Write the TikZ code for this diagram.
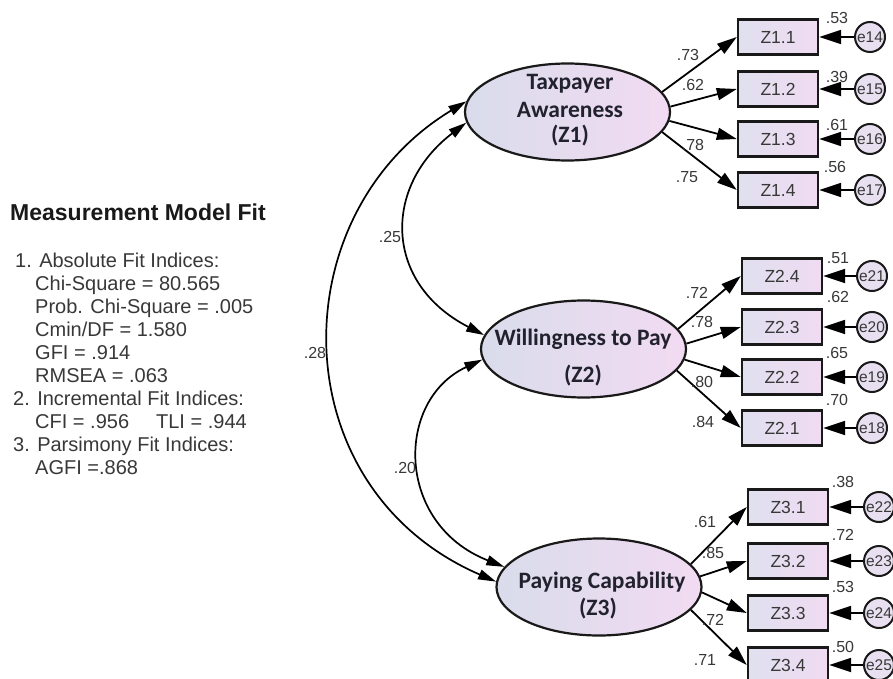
\documentclass[tikz,border=0pt]{standalone}
\usepackage{fontspec}
\setmainfont{Liberation Sans}
\newfontfamily\calfont{Carlito}
\usetikzlibrary{arrows.meta,shapes.geometric}
\definecolor{elleft}{HTML}{D9DCEB}
\definecolor{elright}{HTML}{F2DBF2}
\definecolor{bxleft}{HTML}{E0E0EF}
\definecolor{bxright}{HTML}{F0DBF2}
\definecolor{errfill}{HTML}{E8E0F0}
\definecolor{numgray}{HTML}{383838}
\definecolor{navy}{HTML}{22222E}
\begin{document}
\begin{tikzpicture}[x=1pt,y=-1pt,
  latent/.style={ellipse, draw=black!90, line width=2.2pt, left color=elleft, right color=elright,
    minimum width=205pt, minimum height=97pt, inner sep=0pt},
  ltext/.style={anchor=base, inner sep=0pt, text=navy, font=\calfont\bfseries\fontsize{23.5}{26}\selectfont},
  obs/.style={rectangle, draw=black!90, line width=2.4pt, left color=bxleft, right color=bxright,
    minimum width=80pt, minimum height=35pt, inner sep=0pt, text=numgray,
    font=\fontsize{17.5}{20}\selectfont},
  err/.style={circle, draw=black!90, line width=2pt, fill=errfill, minimum size=30pt, inner sep=0pt,
    text=numgray, font=\fontsize{15.5}{17}\selectfont},
  num/.style={inner sep=0pt, text=numgray, font=\fontsize{16}{18}\selectfont},
  load/.style={-{Triangle[length=20pt,width=12pt]}, line width=1.8pt},
  errarr/.style={-{Triangle[length=22pt,width=14pt]}, line width=1.8pt},
  cov/.style={{Triangle[length=18pt,width=10pt]}-{Triangle[length=18pt,width=10pt]}, line width=1.7pt},
  fit/.style={anchor=base west, inner sep=0pt, text=numgray, font=\fontsize{20}{23}\selectfont}
]
\useasboundingbox[fill=white] (0,0) rectangle (893,679);

% ---- fit text ----
\node[anchor=base west, inner sep=0pt, text=black!90, font=\bfseries\fontsize{23}{26}\selectfont] (title) at (10,220) {Measurement Model Fit};
\node[fit] (f1) at (15,267) {1. Absolute Fit Indices:};
\node[fit] (f2) at (35,290) {Chi-Square = 80.565};
\node[fit] (f3) at (35,313) {Prob. Chi-Square = .005};
\node[fit] (f4) at (35,336) {Cmin/DF = 1.580};
\node[fit] (f5) at (35,359) {GFI = .914};
\node[fit] (f6) at (35,382) {RMSEA = .063};
\node[fit] (f7) at (13,405) {2. Incremental Fit Indices:};
\node[fit] (f8) at (35,428) {CFI = .956\hspace{27pt}TLI = .944};
\node[fit] (f9) at (13,451) {3. Parsimony Fit Indices:};
\node[fit] (f10) at (35,474) {AGFI =.868};

% ---- latent variables ----
\node[latent] (z1) at (567.5,112) {};
\node[latent] (z2) at (583.5,349) {};
\node[latent] (z3) at (599,587) {};
\node[ltext] (z1a) at (570,90) {Taxpayer};
\node[ltext] (z1b) at (570,118) {Awareness};
\node[ltext] (z1c) at (570,143) {(Z1)};
\node[ltext] (z2a) at (583,345) {Willingness to Pay};
\node[ltext] (z2b) at (583,382) {(Z2)};
\node[ltext] (z3a) at (602,588) {Paying Capability};
\node[ltext] (z3b) at (598,615) {(Z3)};

% ---- observed variables ----
\node[obs] (b11) at (778,37) {Z1.1};
\node[obs] (b12) at (778,89) {Z1.2};
\node[obs] (b13) at (778,139) {Z1.3};
\node[obs] (b14) at (778,190) {Z1.4};
\node[obs] (b24) at (782,276) {Z2.4};
\node[obs] (b23) at (782,327) {Z2.3};
\node[obs] (b22) at (782,377) {Z2.2};
\node[obs] (b21) at (782,428) {Z2.1};
\node[obs] (b31) at (788,507) {Z3.1};
\node[obs] (b32) at (788,561) {Z3.2};
\node[obs] (b33) at (788,613) {Z3.3};
\node[obs] (b34) at (788,665) {Z3.4};

% ---- errors ----
\node[err] (e14) at (870,37) {e14};
\node[err] (e15) at (870,89) {e15};
\node[err] (e16) at (870,139) {e16};
\node[err] (e17) at (870,190) {e17};
\node[err] (e21) at (872,276) {e21};
\node[err] (e20) at (872,327) {e20};
\node[err] (e19) at (872,377) {e19};
\node[err] (e18) at (872,428) {e18};
\node[err] (e22) at (879,507) {e22};
\node[err] (e23) at (879,561) {e23};
\node[err] (e24) at (879,613) {e24};
\node[err] (e25) at (879,665) {e25};

% ---- loadings ----
\draw[load] (z1.12) -- (b11.west);
\draw[load] (z1.3) -- (b12.west);
\draw[load] (z1.355) -- (b13.west);
\draw[load] (z1.348) -- (b14.west);
\draw[load] (z2.12) -- (b24.west);
\draw[load] (z2.3) -- (b23.west);
\draw[load] (z2.354) -- (b22.west);
\draw[load] (z2.347) -- (b21.west);
\draw[load] (z3.14) -- (b31.west);
\draw[load] (z3.6) -- (b32.west);
\draw[load] (z3.357) -- (b33.west);
\draw[load] (z3.346) -- (b34.west);

% ---- error arrows ----
\foreach \e/\b in {e14/b11,e15/b12,e16/b13,e17/b14,e21/b24,e20/b23,e19/b22,e18/b21,e22/b31,e23/b32,e24/b33,e25/b34}
  \draw[errarr] (\e) -- (\b);

% ---- covariances ----
\draw[cov] (z1.174) .. controls (280,214) and (280,488) .. (z3.177);
\draw[cov] (z1.186) .. controls (383,186) and (383,283) .. (z2.172);
\draw[cov] (z2.186) .. controls (395,400) and (395,524) .. (z3.168);

% ---- numbers ----
\node[num] (l11) at (688,55) {.73};
\node[num] (l12) at (693,85) {.62};
\node[num] (l13) at (693,145) {.78};
\node[num] (l14) at (687,177) {.75};
\node[num] (l24) at (697,293) {.72};
\node[num] (l23) at (702,322) {.78};
\node[num] (l22) at (702,382) {.80};
\node[num] (l21) at (703,422) {.84};
\node[num] (l31) at (705,522) {.61};
\node[num] (l32) at (713,553) {.85};
\node[num] (l33) at (713,620) {.72};
\node[num] (l34) at (705,660) {.71};

\node[num] (r11) at (837,18) {.53};
\node[num] (r12) at (837,77) {.39};
\node[num] (r13) at (837,125) {.61};
\node[num] (r14) at (835,167) {.56};
\node[num] (r24) at (838,258) {.51};
\node[num] (r23) at (838,297) {.62};
\node[num] (r22) at (837,353) {.65};
\node[num] (r21) at (837,400) {.70};
\node[num] (r31) at (843,482) {.38};
\node[num] (r32) at (843,535) {.72};
\node[num] (r33) at (843,587) {.53};
\node[num] (r34) at (843,647) {.50};

\node[num] (c25) at (390,237) {.25};
\node[num] (c28) at (315,353) {.28};
\node[num] (c20) at (405,468) {.20};
\end{tikzpicture}
\end{document}
